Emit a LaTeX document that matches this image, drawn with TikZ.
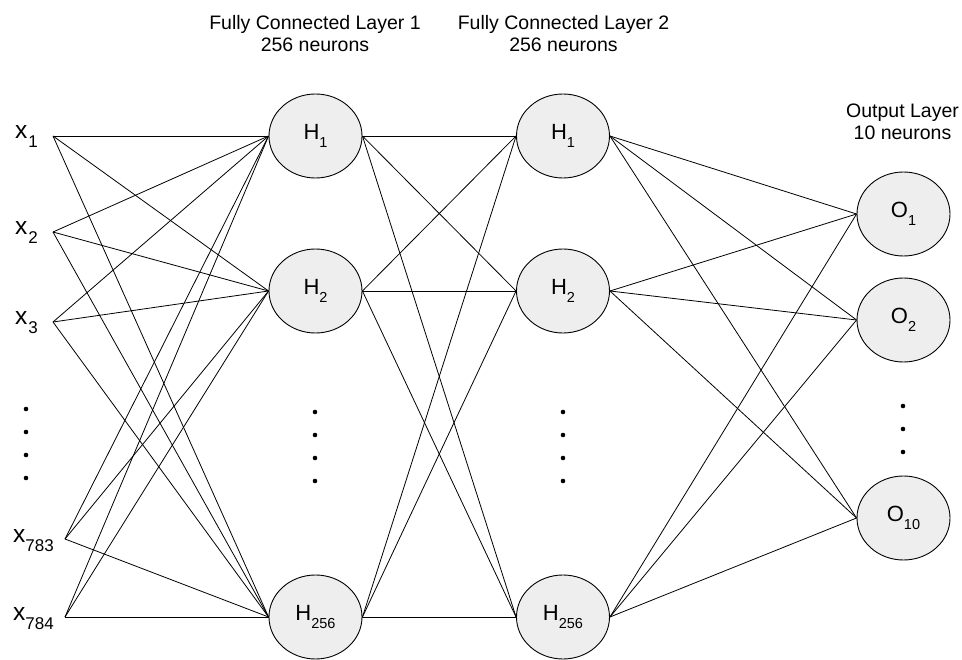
\documentclass[tikz,border=0pt]{standalone}
\usepackage{fontspec}
\setmainfont{Liberation Sans}
\usetikzlibrary{shapes.geometric}
\definecolor{nodefill}{RGB}{238,238,238}
\newcommand\nsub[2]{\raisebox{#2}{\fontsize{14.5}{14.5}\selectfont #1}}
\newcommand\isub[1]{\raisebox{-9pt}{\fontsize{17}{17}\selectfont #1}}
\begin{document}
\begin{tikzpicture}[x=1pt,y=-1pt,
  neuron/.style={ellipse, draw=black, fill=nodefill, line width=0.9pt, minimum width=93pt, minimum height=84pt, inner sep=0pt, font=\fontsize{22}{22}\selectfont},
  header/.style={anchor=base, inner sep=0pt, font=\fontsize{19.5}{19.5}\selectfont},
  inlabel/.style={anchor=base west, inner sep=0pt, font=\fontsize{24.5}{24.5}\selectfont},
  conn/.style={line width=0.8pt, black},
  dotmark/.style={circle, fill=black, inner sep=0pt, minimum size=4.6pt}
]
\useasboundingbox (0,0) rectangle (962,660);
% headers
\node[header] (t1a) at (315,30) {Fully Connected Layer 1};
\node[header] (t1b) at (315,52) {256 neurons};
\node[header] (t2a) at (563.5,30) {Fully Connected Layer 2};
\node[header] (t2b) at (563.5,52) {256 neurons};
\node[header] (t3a) at (902.5,118) {Output Layer};
\node[header] (t3b) at (902.5,140) {10 neurons};
% inputs
\coordinate (i1) at (53,136);
\coordinate (i2) at (53,232);
\coordinate (i3) at (53,322);
\coordinate (i783) at (65,539);
\coordinate (i784) at (65,617);
\node[inlabel] (l1) at (15,139) {x\kern1pt\isub{1}};
\node[inlabel] (l2) at (15,235) {x\kern1pt\isub{2}};
\node[inlabel] (l3) at (15,325) {x\kern1pt\isub{3}};
\node[inlabel] (l783) at (13,542) {x\isub{783}};
\node[inlabel] (l784) at (13,620) {x\isub{784}};
\node[dotmark] (di1) at (26,409) {};
\node[dotmark] (di2) at (26,432) {};
\node[dotmark] (di3) at (26,455) {};
\node[dotmark] (di4) at (26,478) {};
% hidden layer 1
\node[neuron] (a1) at (315.5,136) {H\nsub{1}{-8pt}};
\node[neuron] (a2) at (315.5,291) {H\nsub{2}{-8pt}};
\node[neuron] (a3) at (315.5,617) {H\nsub{256}{-8pt}};
\node[dotmark] (da1) at (315,412) {};
\node[dotmark] (da2) at (315,435) {};
\node[dotmark] (da3) at (315,458) {};
\node[dotmark] (da4) at (315,481) {};
% hidden layer 2
\node[neuron] (b1) at (563,136) {H\nsub{1}{-8pt}};
\node[neuron] (b2) at (563,291) {H\nsub{2}{-8pt}};
\node[neuron] (b3) at (563,617) {H\nsub{256}{-8pt}};
\node[dotmark] (db1) at (563,412) {};
\node[dotmark] (db2) at (563,435) {};
\node[dotmark] (db3) at (563,458) {};
\node[dotmark] (db4) at (563,481) {};
% output layer
\node[neuron] (o1) at (903.5,214) {O\nsub{1}{-8pt}};
\node[neuron] (o2) at (903.5,320) {O\nsub{2}{-8pt}};
\node[neuron] (o3) at (903.5,518) {O\nsub{10}{-8pt}};
\node[dotmark] (do1) at (903,406) {};
\node[dotmark] (do2) at (903,429) {};
\node[dotmark] (do3) at (903,452) {};
% connections
\foreach \s in {i1,i2,i3,i783,i784}
  \foreach \t in {a1,a2,a3}
    \draw[conn] (\s) -- (\t.west);
\foreach \s in {a1,a2,a3}
  \foreach \t in {b1,b2,b3}
    \draw[conn] (\s.east) -- (\t.west);
\foreach \s in {b1,b2,b3}
  \foreach \t in {o1,o2,o3}
    \draw[conn] (\s.east) -- (\t.west);
\end{tikzpicture}
\end{document}
